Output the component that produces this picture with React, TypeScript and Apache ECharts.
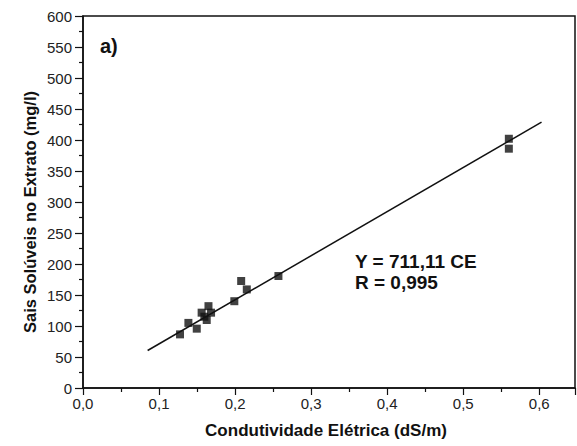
import React, { useEffect, useRef } from "react";
import * as echarts from "echarts";

const xValues = [0.1276, 0.1386, 0.1496, 0.156, 0.1596, 0.1627, 0.165, 0.1684, 0.199, 0.208, 0.2154, 0.257, 0.56, 0.56];
const yValues = [86.5, 105, 95.7, 121.5, 115, 109.7, 132, 121.5, 140, 172.6, 159, 180.6, 402, 386];
const fitX = [0.085, 0.603];
const fitY = [60.5, 428.8];
const yTicks = { min: 0, max: 600, interval: 50 };
const xTicks = { min: 0, max: 0.647, interval: 0.1 };
const eqLabel = "Y = 711,11 CE";
const rLabel = "R = 0,995";
const panelLabel = "a)";
const xName = "Condutividade Elétrica (dS/m)";
const yName = "Sais Solúveis no Extrato (mg/l)";

const FONT = "'Liberation Sans', Arial, sans-serif";

export default function App() {
  const ref = useRef<HTMLDivElement>(null);
  useEffect(() => {
    if (!ref.current) return;
    const chart = echarts.init(ref.current, undefined, { renderer: "svg" });
    const points = xValues.map((x, i) => [x, yValues[i]]);
    const fit = fitX.map((x, i) => [x, fitY[i]]);
    chart.setOption({
      animation: false,
      backgroundColor: "#fff",
      grid: {
        left: 83,
        right: 2,
        top: 16,
        bottom: 58,
        show: true,
        borderColor: "#111",
        borderWidth: 1.5,
        containLabel: false,
      },
      xAxis: {
        type: "value",
        min: xTicks.min,
        max: xTicks.max,
        interval: xTicks.interval,
        axisLine: { show: true, lineStyle: { color: "#111", width: 1.5 } },
        axisTick: { show: true, inside: false, length: 7, lineStyle: { color: "#111", width: 1.2 } },
        minorTick: { show: true, splitNumber: 2, length: 4, lineStyle: { color: "#111", width: 1.2 } },
        splitLine: { show: false },
        axisLabel: {
          margin: 8,
          color: "#222",
          fontSize: 15,
          fontFamily: FONT,
          formatter: (v: number) => v.toFixed(1).replace(".", ","),
          showMaxLabel: false,
        },
      },
      yAxis: {
        type: "value",
        min: yTicks.min,
        max: yTicks.max,
        interval: yTicks.interval,
        axisLine: { show: true, lineStyle: { color: "#111", width: 1.5 } },
        axisTick: { show: true, inside: false, length: 8, lineStyle: { color: "#111", width: 1.2 } },
        minorTick: { show: true, splitNumber: 2, length: 4, lineStyle: { color: "#111", width: 1.2 } },
        splitLine: { show: false },
        axisLabel: {
          margin: 11,
          color: "#222",
          fontSize: 15,
          fontFamily: FONT,
        },
      },
      graphic: [
        {
          type: "text",
          x: 100,
          y: 46,
          style: { text: panelLabel, font: `bold 20px ${FONT}`, fill: "#111", verticalAlign: "middle" },
        },
        {
          type: "text",
          x: 355,
          y: 261,
          style: { text: eqLabel, font: `bold 19px ${FONT}`, fill: "#111", verticalAlign: "middle" },
        },
        {
          type: "text",
          x: 355,
          y: 282,
          style: { text: rLabel, font: `bold 19px ${FONT}`, fill: "#111", verticalAlign: "middle" },
        },
        {
          type: "text",
          x: 326,
          y: 430,
          style: { text: xName, font: `bold 17px ${FONT}`, fill: "#111", align: "center", verticalAlign: "middle" },
        },
        {
          type: "text",
          x: 30,
          y: 212,
          rotation: Math.PI / 2,
          style: { text: yName, font: `bold 16.5px ${FONT}`, fill: "#111", align: "center", verticalAlign: "middle" },
        },
      ],
      series: [
        {
          type: "line",
          data: fit,
          showSymbol: false,
          symbol: "none",
          lineStyle: { color: "#111", width: 1.5 },
          z: 2,
        },
        {
          type: "scatter",
          data: points,
          symbol: "rect",
          symbolSize: 8,
          itemStyle: { color: "#111" },
          z: 3,
        },
      ],
    });
    return () => chart.dispose();
  }, []);
  return (
    <div
      ref={ref}
      style={{ position: "fixed", left: 0, top: 0, width: 577, height: 446 }}
    />
  );
}
